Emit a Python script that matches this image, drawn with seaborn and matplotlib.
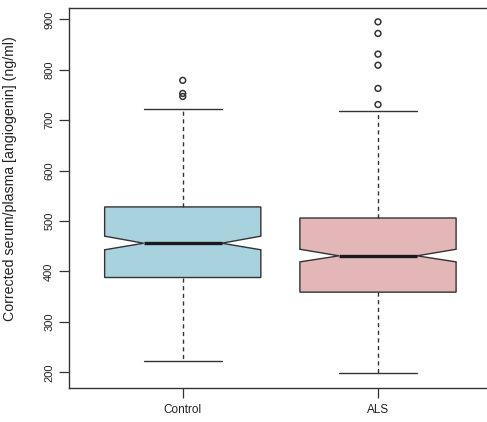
import matplotlib
matplotlib.use("Agg")
import matplotlib.pyplot as plt
import seaborn as sns
import pandas as pd

# Summary statistics of corrected serum/plasma angiogenin (ng/ml) per group
groups = ["Control", "ALS"]
whisker_low = [223, 198]
q1 = [388, 359]
median = [456, 431]
q3 = [528, 506]
whisker_high = [723, 718]
notch_low = [443, 419]
notch_high = [470, 444]
outliers_control = [747, 753, 779]
outliers_als = [731, 763, 809, 831, 872, 895]
box_colors = ["#a9d2df", "#e3b7b7"]
yticks = [200, 300, 400, 500, 600, 700, 800, 900]

sns.set_theme(style="white")
plt.rcParams["font.family"] = ["Liberation Sans", "DejaVu Sans"]

ink = "#333333"

fig = plt.figure(figsize=(4.87, 4.22), dpi=100)
ax = fig.add_axes([0.1427, 0.0813, 0.866, 0.8998])

stats = [
    dict(label=g, whislo=wl, q1=a, med=m, q3=b, whishi=wh,
         cilo=cl, cihi=ch, fliers=[])
    for g, wl, a, m, b, wh, cl, ch in zip(groups, whisker_low, q1, median, q3,
                                           whisker_high, notch_low, notch_high)
]
art = ax.bxp(
    stats, positions=[0, 1], widths=0.8, capwidths=0.4,
    shownotches=True, patch_artist=True, showfliers=False, manage_ticks=False,
    boxprops=dict(edgecolor=ink, linewidth=1.0),
    medianprops=dict(color="#1a1a1a", linewidth=2.4, solid_capstyle="butt"),
    whiskerprops=dict(color=ink, linewidth=1.0, linestyle=(0, (3, 2.5))),
    capprops=dict(color=ink, linewidth=1.0),
)
for box, col in zip(art["boxes"], box_colors):
    box.set_facecolor(col)

# Outlying observations drawn as open circles
fliers = pd.DataFrame({
    "group": ["Control"] * len(outliers_control) + ["ALS"] * len(outliers_als),
    "value": outliers_control + outliers_als,
})
sns.stripplot(data=fliers, x="group", y="value", order=groups, jitter=False,
              size=4.2, facecolor="none", edgecolor=ink, linewidth=1.1, ax=ax)

ax.set_xlim(-0.58, 1.58)
ax.set_ylim(169.5, 922.5)
ax.set_yticks(yticks)
ax.set_yticklabels([str(t) for t in yticks], rotation=90, va="center", fontsize=8)
ax.set_xticks([0, 1])
ax.set_xticklabels(groups, fontsize=8.5)
ax.set_xlabel("")
ax.set_ylabel("Corrected serum/plasma [angiogenin] (ng/ml)", fontsize=10.2, color="#222222")
ax.yaxis.set_label_coords(-0.125, 0.55)
ax.tick_params(axis="both", direction="out", length=7, width=0.9, color=ink,
               labelcolor="#222222", left=True, bottom=True)
ax.tick_params(axis="y", pad=4)
ax.tick_params(axis="x", pad=5)
for s in ax.spines.values():
    s.set_color(ink)
    s.set_linewidth(1.0)

fig.savefig("out.png", dpi=100)
